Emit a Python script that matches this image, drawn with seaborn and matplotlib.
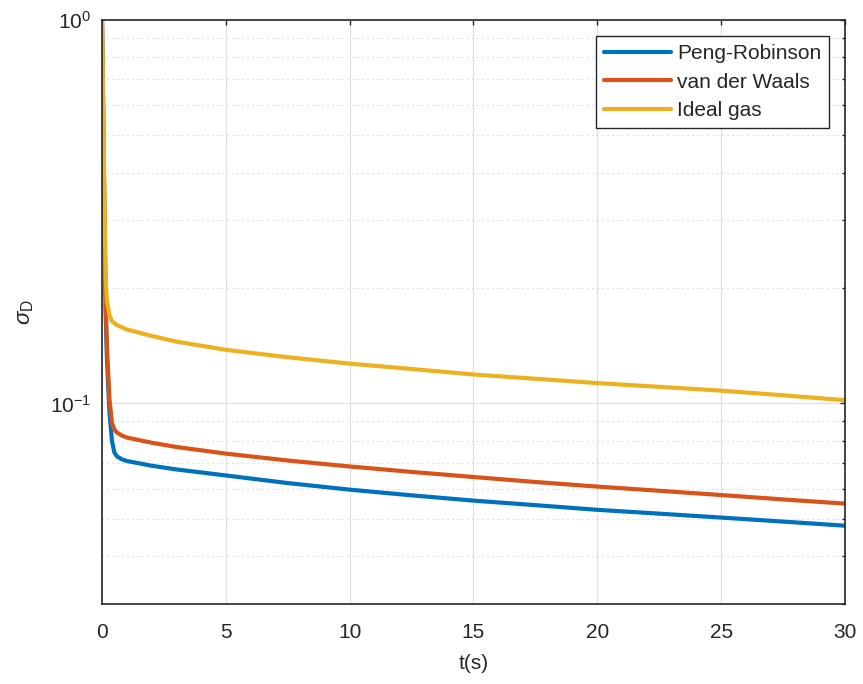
import numpy as np
import pandas as pd
import matplotlib
matplotlib.use("Agg")
import matplotlib.pyplot as plt
from matplotlib.ticker import NullFormatter, LogLocator, MultipleLocator
import seaborn as sns

# time samples (s)
t = [0, 0.05, 0.1, 0.15, 0.2, 0.3, 0.4, 0.5, 0.6, 0.8, 1, 2, 3, 5,
     7.5, 10, 12.5, 15, 17.5, 20, 22.5, 25, 27.5, 30]

# sigma_D
peng_robinson = [1.0, 0.55, 0.30, 0.17, 0.13, 0.095, 0.080, 0.0745, 0.0728, 0.0715,
                 0.0708, 0.0688, 0.0673, 0.0649, 0.0620, 0.0596, 0.0576, 0.0558,
                 0.0543, 0.0528, 0.0516, 0.0504, 0.0492, 0.0480]
van_der_waals = [1.0, 0.55, 0.30, 0.18, 0.14, 0.103, 0.089, 0.0855, 0.0840, 0.0825,
                 0.0815, 0.0790, 0.0770, 0.0740, 0.0710, 0.0685, 0.0663, 0.0643,
                 0.0624, 0.0607, 0.0592, 0.0577, 0.0562, 0.0548]
ideal_gas = [1.0, 0.60, 0.34, 0.21, 0.185, 0.170, 0.164, 0.162, 0.160, 0.158,
             0.156, 0.150, 0.145, 0.138, 0.132, 0.127, 0.123, 0.119,
             0.116, 0.113, 0.1105, 0.108, 0.105, 0.102]

series = ["Peng-Robinson", "van der Waals", "Ideal gas"]
colors = ["#0072BD", "#D95319", "#EDB120"]

df = pd.concat([
    pd.DataFrame({"t": t, "sigma": peng_robinson, "model": series[0]}),
    pd.DataFrame({"t": t, "sigma": van_der_waals, "model": series[1]}),
    pd.DataFrame({"t": t, "sigma": ideal_gas, "model": series[2]}),
])

sns.set_theme(style="white")
plt.rcParams["font.family"] = ["Liberation Sans", "DejaVu Sans"]
plt.rcParams["mathtext.fontset"] = "custom"
plt.rcParams["mathtext.rm"] = "Liberation Sans"
plt.rcParams["mathtext.it"] = "Liberation Sans:italic"

fig = plt.figure(figsize=(8.63, 6.84), dpi=100)
ax = fig.add_axes([0.1182, 0.1170, 0.8609, 0.8538])

sns.lineplot(data=df, x="t", y="sigma", hue="model", hue_order=series,
             palette=colors, estimator=None, sort=False, linewidth=3.0, ax=ax)

ax.set_yscale("log")
ax.set_xlim(0, 30)
ax.set_ylim(0.03, 1)
ax.xaxis.set_major_locator(MultipleLocator(5))
ax.yaxis.set_major_locator(LogLocator(base=10))
ax.yaxis.set_minor_locator(LogLocator(base=10, subs=np.arange(2, 10)))
ax.yaxis.set_minor_formatter(NullFormatter())

# matlab-ish grid
ax.grid(True, which="major", color="#dedede", linewidth=0.8, linestyle="-")
ax.grid(True, which="minor", axis="y", color="#c8c8c8", linewidth=0.8,
        linestyle=(0, (1, 3.5)))
ax.set_axisbelow(True)

for s in ax.spines.values():
    s.set_color("#262626")
    s.set_linewidth(1.2)
ax.tick_params(which="both", direction="in", top=True, right=True,
               colors="#262626", labelsize=15)
ax.tick_params(which="major", length=3.5, width=1.0)
ax.tick_params(which="minor", length=2.5, width=1.0)
ax.tick_params(axis="x", pad=14)
ax.tick_params(axis="y", pad=8)

ax.set_xlabel("t(s)", fontsize=15, color="#262626", labelpad=8)
ax.set_ylabel(r"$\sigma_{\mathrm{D}}$", fontsize=16, color="#262626", labelpad=10)

handles, labels = ax.get_legend_handles_labels()
leg = ax.legend(handles, labels, loc="upper right", bbox_to_anchor=(0.9785, 0.972),
                fontsize=15, frameon=True, fancybox=False, framealpha=1,
                edgecolor="#262626", handlelength=3.2, labelspacing=0.45,
                borderpad=0.38, handletextpad=0.3, borderaxespad=0)
leg.get_frame().set_linewidth(1.0)
for h in leg.get_lines():
    h.set_linewidth(3.0)

fig.savefig("out.png", dpi=100)
